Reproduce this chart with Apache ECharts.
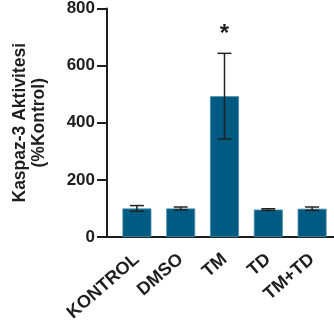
<!DOCTYPE html>
<html><head><meta charset="utf-8">
<script src="https://cdn.jsdelivr.net/npm/echarts@6/dist/echarts.min.js"></script>
<style>html,body{margin:0;padding:0;background:#fff;}#c{width:334px;height:331px;}</style>
</head><body><div id="c"></div>
<script>
const categories = ['KONTROL', 'DMSO', 'TM', 'TD', 'TM+TD'];
const means = [100, 100, 493, 96, 99];
const errors = [10, 5, 150, 3, 6];
const marks = ['', '', '*', '', ''];
const yTicks = [0, 200, 400, 600, 800];

const font = 'Liberation Sans, Arial, sans-serif';
const axisColor = '#1e1e1e';
const chart = echarts.init(document.getElementById('c'), null, {renderer: 'canvas'});
chart.setOption({
  animation: false,
  backgroundColor: '#fff',
  grid: [
    {left: 115, width: 220, top: 7, bottom: 94, containLabel: false},
    {left: 107, width: 8, top: 7, bottom: 94, containLabel: false}
  ],
  xAxis: [
    {
      type: 'category', data: categories, gridIndex: 0,
      axisLine: {lineStyle: {color: axisColor, width: 2}},
      axisTick: {alignWithLabel: true, length: 9, lineStyle: {color: axisColor, width: 2}},
      axisLabel: {rotate: 41, margin: 20, color: axisColor, fontWeight: 'bold', fontSize: 18, fontFamily: font, interval: 0}
    },
    {
      type: 'value', gridIndex: 1, min: 0, max: 1,
      axisLine: {show: true, onZero: false, lineStyle: {color: axisColor, width: 2}},
      axisTick: {show: false}, axisLabel: {show: false}, splitLine: {show: false}
    }
  ],
  yAxis: [
    {
      type: 'value', gridIndex: 0, min: yTicks[0], max: yTicks[yTicks.length - 1], interval: 200, offset: 8,
      axisLine: {show: true, lineStyle: {color: axisColor, width: 2}},
      axisTick: {show: true, length: 10, lineStyle: {color: axisColor, width: 2}},
      axisLabel: {margin: 12, color: axisColor, fontWeight: 'bold', fontSize: 17, fontFamily: font},
      splitLine: {show: false},
      name: 'Kaspaz-3 Aktivitesi\n(%Kontrol)',
      nameLocation: 'middle', nameRotate: 90, nameGap: 58,
      nameTextStyle: {color: axisColor, fontWeight: 'bold', fontSize: 17.5, fontFamily: font, lineHeight: 19, align: 'center'}
    },
    {type: 'value', gridIndex: 1, show: false, min: 0, max: 1}
  ],
  series: [
    {
      type: 'bar', data: means, barWidth: 29, xAxisIndex: 0, yAxisIndex: 0,
      itemStyle: {color: '#005b82', borderColor: '#4f8fab', borderWidth: 0.8}
    },
    {
      type: 'custom', xAxisIndex: 0, yAxisIndex: 0, z: 5,
      data: means.map((m, i) => [i, m, errors[i], marks[i]]),
      renderItem: function (params, api) {
        const i = api.value(0), m = api.value(1), e = api.value(2);
        const top = api.coord([i, m + e]);
        const bot = api.coord([i, m - e]);
        const hw = 7;
        const st = {stroke: '#222', lineWidth: 1.5};
        const children = [
          {type: 'line', shape: {x1: top[0], y1: top[1], x2: bot[0], y2: bot[1]}, style: st},
          {type: 'line', shape: {x1: top[0] - hw, y1: top[1], x2: top[0] + hw, y2: top[1]}, style: st},
          {type: 'line', shape: {x1: bot[0] - hw, y1: bot[1], x2: bot[0] + hw, y2: bot[1]}, style: st}
        ];
        const mk = marks[params.dataIndex];
        if (mk) {
          children.push({type: 'text', x: top[0], y: top[1] - 19,
            style: {text: mk, fill: '#1e1e1e', font: 'bold 24px ' + font, align: 'center', verticalAlign: 'middle'}});
        }
        return {type: 'group', children: children};
      }
    }
  ]
});
</script></body></html>
